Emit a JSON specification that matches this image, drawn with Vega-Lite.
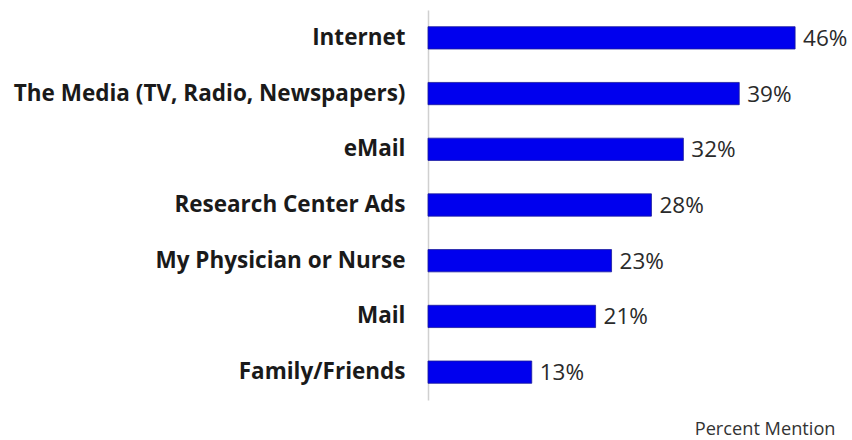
{
  "$schema": "https://vega.github.io/schema/vega-lite/v6.json",
  "autosize": {"type": "none"},
  "width": 407,
  "height": 390,
  "padding": {"left": 428, "top": 10, "right": 17, "bottom": 40},
  "background": "white",
  "config": {"view": {"stroke": null}, "font": "Open Sans"},
  "data": {"values": [
    {"source": "Internet", "share": 0.46},
    {"source": "The Media (TV, Radio, Newspapers)", "share": 0.39},
    {"source": "eMail", "share": 0.32},
    {"source": "Research Center Ads", "share": 0.28},
    {"source": "My Physician or Nurse", "share": 0.23},
    {"source": "Mail", "share": 0.21},
    {"source": "Family/Friends", "share": 0.13}
  ]},
  "encoding": {
    "y": {"field": "source", "type": "nominal", "sort": null,
      "scale": {"paddingInner": 0.6, "paddingOuter": 0.3},
      "axis": {"title": null, "ticks": false, "domainColor": "#d0d0d0", "domainWidth": 1.5,
        "labelFontSize": 22.5, "labelFontWeight": "bold", "labelColor": "#1a1a1a", "labelPadding": 23, "labelLimit": 430}},
    "x": {"field": "share", "type": "quantitative", "scale": {"domain": [0, 0.51], "nice": false},
      "axis": {"title": "Percent Mention", "labels": false, "ticks": false, "domain": false, "grid": false,
        "titleAnchor": "end", "titleAlign": "right", "titleX": 407, "titleY": 34, "titleBaseline": "alphabetic",
        "titleFontSize": 18.2, "titleFontWeight": "normal", "titleColor": "#333333"}}
  },
  "layer": [
    {"mark": {"type": "bar", "color": "#0000ee", "stroke": "#1a1a9a", "strokeWidth": 0.8}},
    {"mark": {"type": "text", "align": "left", "dx": 8, "dy": 1, "fontSize": 22.5, "color": "#2a2a2a"},
     "encoding": {"text": {"field": "share", "type": "quantitative", "format": ".0%"}}}
  ]
}
